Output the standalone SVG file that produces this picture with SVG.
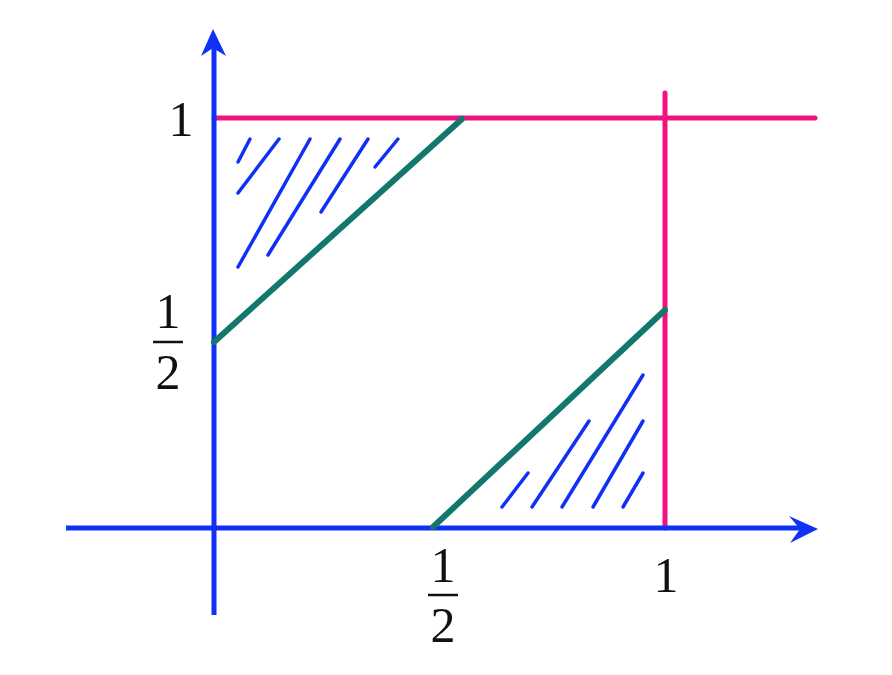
<svg xmlns="http://www.w3.org/2000/svg" width="892" height="675" viewBox="0 0 892 675">
<style>
.ax{stroke:#1030f5;stroke-width:5;fill:none}
.pk{stroke:#f0127e;stroke-width:5;fill:none;stroke-linecap:round}
.gr{stroke:#12786e;stroke-width:6;fill:none;stroke-linecap:round}
.ht{stroke:#1030f5;stroke-width:3.5;fill:none;stroke-linecap:round}
.ah{fill:#1030f5}
text{font-family:"Liberation Serif","Times New Roman",serif;font-size:50px;fill:#111;text-anchor:middle}
.bar{stroke:#111;stroke-width:2.5}
</style>
<rect width="892" height="675" fill="#ffffff"/>
<g id="connectors">
<line class="pk" x1="214" y1="118" x2="815" y2="118"/>
<line class="pk" x1="665" y1="93" x2="665" y2="528"/>
<line class="ax" x1="66" y1="528" x2="805" y2="528"/>
<line class="ax" x1="214" y1="615" x2="214" y2="42"/>
<path class="ah" d="M213,29 L226,56 L213,48 L201,56 Z"/>
<path class="ah" d="M818,529 L790,543 L800,529 L789,516 Z"/>
<line class="gr" x1="214" y1="342" x2="462" y2="119"/>
<line class="gr" x1="433" y1="527" x2="665" y2="310"/>
</g>
<g id="hatch-top">
<line class="ht" x1="238" y1="162" x2="250" y2="139"/>
<line class="ht" x1="238" y1="193" x2="279" y2="139"/>
<line class="ht" x1="238" y1="267" x2="310" y2="139"/>
<line class="ht" x1="268" y1="255" x2="340" y2="139"/>
<line class="ht" x1="321" y1="212" x2="368" y2="139"/>
<line class="ht" x1="375" y1="167" x2="398" y2="139"/>
</g>
<g id="hatch-bottom">
<line class="ht" x1="502" y1="507" x2="528" y2="473"/>
<line class="ht" x1="532" y1="507" x2="589" y2="421"/>
<line class="ht" x1="562" y1="507" x2="643" y2="375"/>
<line class="ht" x1="593" y1="507" x2="643" y2="421"/>
<line class="ht" x1="623" y1="507" x2="643" y2="473"/>
</g>
<g id="label-y1"><text x="181" y="136">1</text></g>
<g id="label-yhalf">
<text x="168" y="328">1</text>
<line class="bar" x1="153" y1="342" x2="183" y2="342"/>
<text x="168" y="389">2</text>
</g>
<g id="label-xhalf">
<text x="443" y="582">1</text>
<line class="bar" x1="428" y1="595" x2="458" y2="595"/>
<text x="443" y="642">2</text>
</g>
<g id="label-x1"><text x="666" y="592">1</text></g>
</svg>
